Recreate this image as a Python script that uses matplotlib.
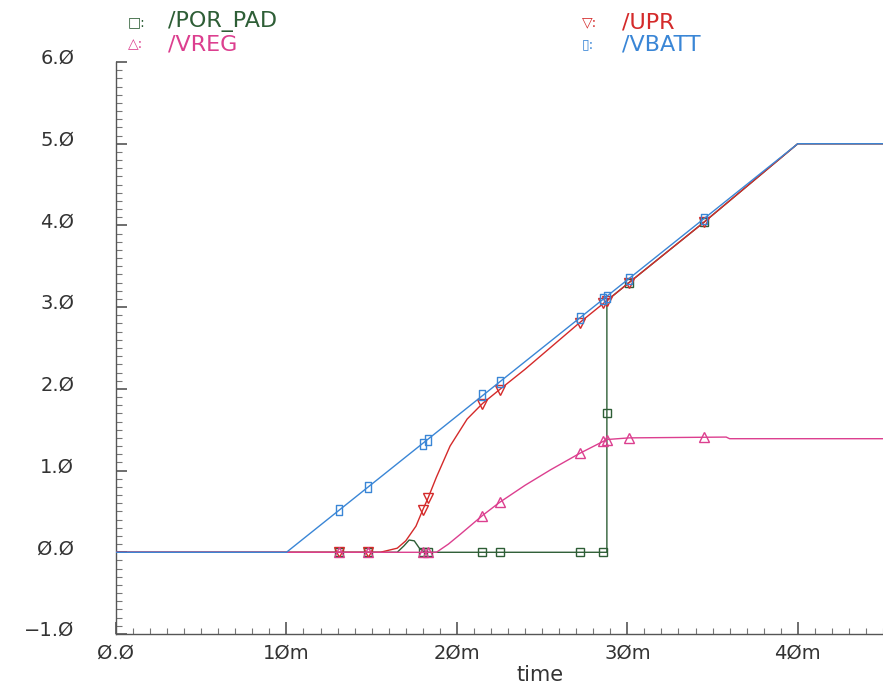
import matplotlib
matplotlib.use("Agg")
import matplotlib.pyplot as plt
import matplotlib.transforms as mtransforms
from matplotlib.path import Path
from matplotlib.ticker import MultipleLocator, FixedLocator, FixedFormatter

# --- datos (tiempo en ms, tensión en V) ---
t_vbatt = [0, 10, 40, 45]
v_vbatt = [0, 0, 5.0, 5.0]

t_upr = [0, 15.5, 16.5, 17.0, 17.6, 18.0, 18.3, 18.8, 19.6, 20.6, 21.5, 22.5, 24.0,
         27.2, 28.8, 30.1, 34.5, 40.0, 45]
v_upr = [0, 0, 0.05, 0.14, 0.32, 0.52, 0.66, 0.92, 1.30, 1.63, 1.82, 1.99, 2.24,
         2.81, 3.08, 3.30, 4.04, 5.0, 5.0]

t_vreg = [0, 18.8, 19.5, 20.2, 21.5, 22.5, 24.0, 25.5, 27.2, 28.8, 30.1, 35.8, 36.0, 45]
v_vreg = [0, 0, 0.10, 0.22, 0.45, 0.61, 0.82, 1.01, 1.21, 1.38, 1.40, 1.41, 1.39, 1.39]

t_por = [0, 16.5, 16.9, 17.2, 17.5, 17.8, 18.1, 28.8, 28.8, 30.1, 34.5, 40.0, 45]
v_por = [0, 0, 0.08, 0.15, 0.14, 0.05, 0, 0, 3.08, 3.30, 4.04, 5.0, 5.0]

# marcadores (mismos instantes para las cuatro señales)
mk_t = [13.1, 14.8, 18.0, 18.3, 21.5, 22.5, 27.2, 28.6, 28.8, 30.1, 34.5]
mk_vbatt = [0.52, 0.80, 1.33, 1.38, 1.92, 2.08, 2.87, 3.10, 3.13, 3.35, 4.08]
mk_upr = [0, 0, 0.52, 0.66, 1.82, 1.99, 2.81, 3.05, 3.08, 3.30, 4.04]
mk_vreg = [0, 0, 0, 0, 0.45, 0.61, 1.21, 1.36, 1.38, 1.40, 1.41]
mk_por = [0, 0, 0, 0, 0, 0, 0, 0, 1.70, 3.30, 4.04]

x_ticks = [0, 10, 20, 30, 40]
x_labels = ["Ø.Ø", "1Øm", "2Øm", "3Øm", "4Øm"]
y_ticks = [-1, 0, 1, 2, 3, 4, 5, 6]
y_labels = ["\u22121.Ø", "Ø.Ø", "1.Ø", "2.Ø", "3.Ø", "4.Ø", "5.Ø", "6.Ø"]

c_por = "#2e5e36"
c_vreg = "#dc3f8f"
c_upr = "#d42a2a"
c_vbatt = "#3a86d6"

# rectángulo estrecho para /VBATT
rect = Path([(-0.3, -0.5), (0.3, -0.5), (0.3, 0.5), (-0.3, 0.5), (-0.3, -0.5)],
            [Path.MOVETO, Path.LINETO, Path.LINETO, Path.LINETO, Path.CLOSEPOLY])

fig = plt.figure(figsize=(8.83, 6.86), dpi=100)
ax = fig.add_axes([116 / 883, 1 - 634 / 686, 1 - 116 / 883, (634 - 62) / 686])

lw = 1.0
ax.plot(t_por, v_por, color=c_por, lw=lw, zorder=2)
ax.plot(mk_t, mk_por, ls="none", marker="s", ms=6, mfc="none", mec=c_por, mew=1, zorder=2)
ax.plot(t_upr, v_upr, color=c_upr, lw=lw, zorder=3)
ax.plot(mk_t, mk_upr, ls="none", marker="v", ms=7, mfc="none", mec=c_upr, mew=1, zorder=3)
ax.plot(t_vreg, v_vreg, color=c_vreg, lw=lw, zorder=4)
ax.plot(mk_t, mk_vreg, ls="none", marker="^", ms=7, mfc="none", mec=c_vreg, mew=1, zorder=4)
ax.plot(t_vbatt, v_vbatt, color=c_vbatt, lw=lw, zorder=5)
ax.plot(mk_t, mk_vbatt, ls="none", marker=rect, ms=7, mfc="none", mec=c_vbatt, mew=1, zorder=5)

ax.set_xlim(0, 45)
ax.set_ylim(-1, 6)
for s in ["top", "right"]:
    ax.spines[s].set_visible(False)
for s in ["left", "bottom"]:
    ax.spines[s].set_color("#555555")
    ax.spines[s].set_linewidth(1.0)

ax.xaxis.set_major_locator(FixedLocator(x_ticks))
ax.xaxis.set_major_formatter(FixedFormatter(x_labels))
ax.yaxis.set_major_locator(FixedLocator(y_ticks))
ax.yaxis.set_major_formatter(FixedFormatter(y_labels))
ax.xaxis.set_minor_locator(MultipleLocator(1))
ax.yaxis.set_minor_locator(MultipleLocator(0.1))
ax.tick_params(which="major", direction="in", color="#555555", labelsize=14, labelcolor="#333333")
ax.tick_params(axis="x", which="major", length=9, width=1.2, pad=7)
ax.tick_params(axis="y", which="major", length=8, width=1.2, pad=30)
ax.tick_params(which="minor", direction="in", length=4, width=0.8, color="#777777")

for lab in ax.get_yticklabels():
    lab.set_transform(lab.get_transform() + mtransforms.ScaledTranslation(0, 4 / 72, fig.dpi_scale_trans))

fig.text(540 / 883, 1 - 675 / 686, "time", ha="center", va="center", fontsize=15, color="#333333")

# leyenda de cabecera
fig.text(128 / 883, 1 - 22 / 686, "\u25a1:", ha="left", va="center", fontsize=10, color=c_por)
fig.text(168 / 883, 1 - 22 / 686, "/POR_PAD", ha="left", va="center", fontsize=16, color=c_por)
fig.text(128 / 883, 1 - 44 / 686, "\u25b3:", ha="left", va="center", fontsize=10, color=c_vreg)
fig.text(168 / 883, 1 - 44 / 686, "/VREG", ha="left", va="center", fontsize=16, color=c_vreg)
fig.text(582 / 883, 1 - 22 / 686, "\u25bd:", ha="left", va="center", fontsize=10, color=c_upr)
fig.text(622 / 883, 1 - 22 / 686, "/UPR", ha="left", va="center", fontsize=16, color=c_upr)
fig.text(582 / 883, 1 - 44 / 686, "\u25af:", ha="left", va="center", fontsize=10, color=c_vbatt)
fig.text(622 / 883, 1 - 44 / 686, "/VBATT", ha="left", va="center", fontsize=16, color=c_vbatt)

fig.savefig("out.png", dpi=100)
